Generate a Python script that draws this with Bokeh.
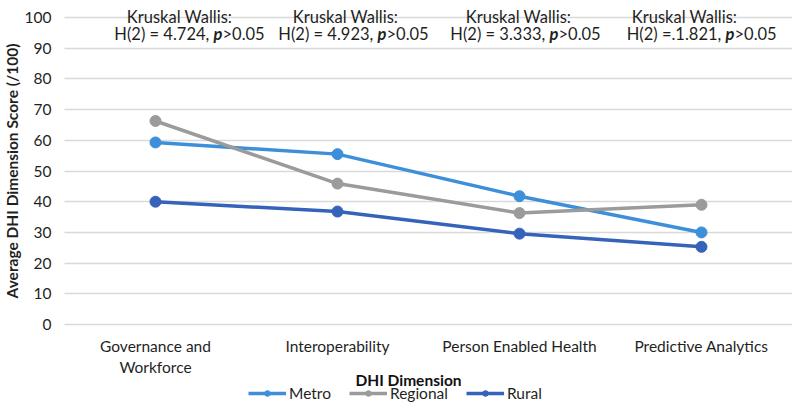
import math
from bokeh.plotting import figure
from bokeh.models import (Range1d, FixedTicker, Legend, LegendItem, Label, BoxAnnotation)
from bokeh.embed import file_html
from bokeh.resources import INLINE

categories = ["Governance and\nWorkforce", "Interoperability", "Person Enabled Health", "Predictive Analytics"]
metro = [59.3, 55.5, 41.8, 30.0]
regional = [66.3, 45.9, 36.3, 39.0]
rural = [40.0, 36.8, 29.6, 25.3]
test_head = ["Kruskal Wallis:"] * 4
test_pre = ["H(2) = 4.724, ", "H(2) = 4.923, ", "H(2) = 3.333, ", "H(2) =.1.821, "]
test_p = ["p", "p", "p", "p"]
test_post = [">0.05", ">0.05", ">0.05", " >0.05"]
y_ticks = list(range(0, 101, 10))

FONT = "Lato"
FS = "15.5px"
AFS = "16.5px"
TXT = "#1f1f1f"
xs = list(range(len(categories)))

p = figure(width=792, height=402, output_backend="svg", toolbar_location=None,
           x_range=Range1d(-0.8516, len(categories) - 0.5), y_range=Range1d(-25.4, 105.54),
           min_border_left=0, min_border_right=0, min_border_top=0, min_border_bottom=0)
p.outline_line_color = None
p.background_fill_color = "white"
p.border_fill_color = "white"

p.xgrid.grid_line_color = None
p.ygrid.grid_line_color = "#D9D9D9"
p.ygrid.grid_line_width = 1.3
# keep the gridlines out of the tick-label margin
p.add_layout(BoxAnnotation(right=-0.5, fill_color="white", fill_alpha=1.0,
                           line_alpha=0, level="underlay"))

p.yaxis.fixed_location = -0.5
p.yaxis.ticker = FixedTicker(ticks=y_ticks)
p.yaxis.axis_line_color = None
p.yaxis.major_tick_line_color = None
p.yaxis.minor_tick_line_color = None
p.yaxis.major_tick_out = 0
p.yaxis.major_tick_in = 0
p.yaxis.minor_tick_out = 0
p.yaxis.major_label_text_font = FONT
p.yaxis.major_label_text_font_size = FS
p.yaxis.major_label_text_color = TXT
p.yaxis.major_label_standoff = 13

p.xaxis.fixed_location = 0
p.xaxis.ticker = FixedTicker(ticks=xs)
p.xaxis.major_label_overrides = {i: c for i, c in enumerate(categories)}
p.xaxis.axis_line_color = None
p.xaxis.major_tick_line_color = None
p.xaxis.minor_tick_line_color = None
p.xaxis.major_tick_out = 0
p.xaxis.major_tick_in = 0
p.xaxis.minor_tick_out = 0
p.xaxis.major_label_text_font = FONT
p.xaxis.major_label_text_font_size = FS
p.xaxis.major_label_text_color = TXT
p.xaxis.major_label_standoff = 12

# axis titles
p.add_layout(Label(x=-0.5, y=50, x_offset=-52, text="Average DHI Dimension Score (/100)",
                   angle=math.pi / 2, text_align="center", text_baseline="middle",
                   text_font=FONT, text_font_size=FS, text_font_style="bold", text_color=TXT))
p.add_layout(Label(x=1.5, y=0, x_offset=-20, y_offset=-55, text="DHI Dimension",
                   text_align="center", text_baseline="middle",
                   text_font=FONT, text_font_size=FS, text_font_style="bold", text_color="#111111"))

series = [("Metro", metro, "#3D8FD9"), ("Regional", regional, "#9B9B9B"), ("Rural", rural, "#3563B9")]
items = []
for name, vals, col in series:
    l = p.line(xs, vals, line_color=col, line_width=3.5)
    s = p.scatter(xs, vals, size=11, fill_color=col, line_color=col)
    items.append(LegendItem(label=name, renderers=[l, s]))

legend = Legend(items=items, orientation="horizontal", location=(248, 0),
                label_text_font=FONT, label_text_font_size=FS, label_text_color=TXT,
                label_height=16, glyph_width=38, glyph_height=14, label_standoff=3, spacing=18,
                border_line_color=None, background_fill_alpha=0, padding=0, margin=0)
p.add_layout(legend, "center")

head_off = [24, 8, -1, -17]
p_off = [58, 40, 30, 24]
for i in range(len(categories)):
    p.add_layout(Label(x=xs[i], y=100, x_offset=head_off[i], y_offset=1, text=test_head[i],
                       text_align="center", text_baseline="alphabetic", text_font=FONT,
                       text_font_size=AFS, text_color=TXT))
    p.add_layout(Label(x=xs[i], y=100, x_offset=p_off[i], y_offset=-16, text=test_pre[i],
                       text_align="right", text_baseline="alphabetic", text_font=FONT,
                       text_font_size=AFS, text_color=TXT))
    p.add_layout(Label(x=xs[i], y=100, x_offset=p_off[i], y_offset=-16, text=test_p[i],
                       text_align="left", text_baseline="alphabetic", text_font=FONT,
                       text_font_size=AFS, text_font_style="bold italic", text_color=TXT))
    p.add_layout(Label(x=xs[i], y=100, x_offset=p_off[i] + 9, y_offset=-16, text=test_post[i],
                       text_align="left", text_baseline="alphabetic", text_font=FONT,
                       text_font_size=AFS, text_color=TXT))

open("out.html", "w").write(file_html(p, INLINE))
